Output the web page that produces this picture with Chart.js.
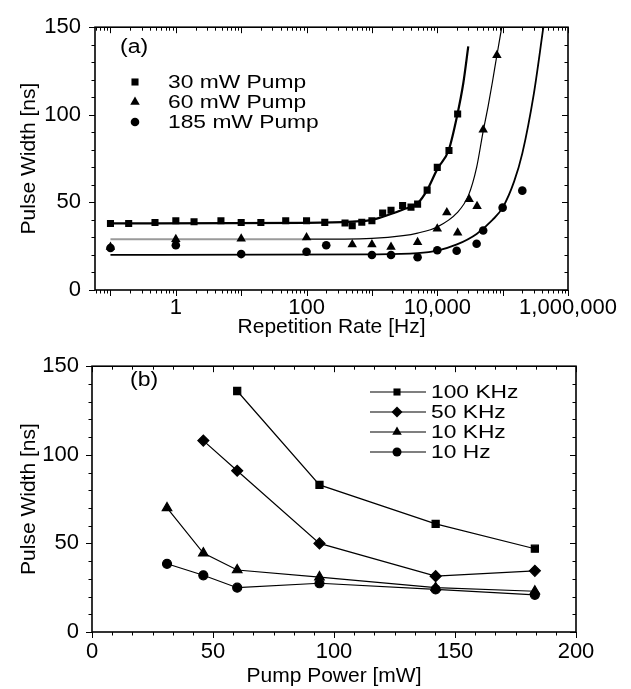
<!DOCTYPE html>
<html>
<head>
<meta charset="utf-8">
<script src="https://cdn.jsdelivr.net/npm/chart.js@4/dist/chart.umd.min.js"></script>
<style>
  html, body { margin: 0; padding: 0; background: #fff; }
  canvas { display: block; }
</style>
</head>
<body>
<canvas id="chartA" width="631" height="340"></canvas>
<canvas id="chartB" width="631" height="349"></canvas>
<script>
// (a) pulse width vs repetition rate - measured points
const rate30 = [0.1, 0.19, 0.48, 1, 1.9, 4.9, 10, 20, 48, 100, 190, 388, 500, 700, 1000, 1460, 1960, 2950, 3960, 5000, 7000, 10000, 15100, 20500];
const width30 = [38, 38, 38.5, 39.5, 39, 39.5, 38.5, 38.5, 39.5, 39.5, 38.6, 38.2, 36.7, 38.7, 39.5, 44, 45.5, 48.2, 47.3, 49, 57, 70, 79.6, 100.5];
const rate60 = [0.1, 1, 10, 100, 500, 1000, 1960, 5000, 10000, 14000, 20500, 30700, 40600, 50400, 81700];
const width60 = [24.5, 29, 29.2, 30, 26, 26, 24.5, 27.3, 35, 44.2, 32.7, 51.8, 47.8, 91.5, 134];
const rate185 = [0.1, 1, 10, 100, 200, 1000, 1960, 5000, 10000, 19800, 40000, 50400, 100000, 200000];
const width185 = [24, 25.5, 20.5, 21.8, 25.5, 20, 20, 18.7, 22.7, 22.4, 26.4, 34, 47, 56.7];

// (a) fitted curves
const fitRate30 = [0.1, 100, 500, 1000, 2000, 3000, 5000, 7000, 10000, 15000, 20000, 25000, 29800];
const fitWidth30 = [38, 38.3, 39, 40, 43.5, 46, 49.5, 57, 69, 80, 99, 118, 139];
const fitRate60 = [0.1, 100, 1000, 3000, 5000, 10000, 20000, 30000, 40000, 50000, 60000, 70000, 80000, 97000];
const fitWidth60 = [29, 29, 29.5, 31, 32.5, 36, 44, 54, 70, 90, 105, 119, 132, 150];
const fitRate185 = [0.1, 1000, 5000, 10000, 20000, 40000, 70000, 100000, 150000, 200000, 300000, 420000];
const fitWidth185 = [20, 20.3, 21, 22.5, 26, 32, 40, 47, 62, 78, 112, 150];

// (b) pulse width vs pump power
const power100k = [60, 94, 142, 183];
const pw100k = [136, 83, 61, 47];
const power50k = [46, 60, 94, 142, 183];
const pw50k = [108, 91, 50, 31.5, 34.5];
const power10k = [31, 46, 60, 94, 142, 183];
const pw10k = [70, 44.5, 35, 31, 25, 23];
const power10 = [31, 46, 60, 94, 142, 183];
const pw10 = [38.5, 32, 25, 27.5, 24, 21];

// axis ticks
const rateLabelTicks = [1, 100, 10000, 1000000];
const rateLabels = ['1', '100', '10,000', '1,000,000'];
const widthTicks = [0, 50, 100, 150];
const powerTicks = [0, 50, 100, 150, 200];

const FONT = '"Liberation Sans", Arial, Helvetica, sans-serif';
Chart.defaults.font.family = FONT;
Chart.defaults.color = '#000';

const pts = (xs, ys) => xs.map((x, i) => ({ x, y: ys[i] }));

// tick marks on all four sides (Origin style, mirrored)
function frameTicks(xMajor, xMinor, yMajor, yMinor) {
  return {
    id: 'frameTicks',
    afterDraw(chart) {
      const { ctx, chartArea: a, scales } = chart;
      ctx.save();
      ctx.strokeStyle = '#000';
      ctx.lineWidth = 1;
      ctx.beginPath();
      const markX = (vals, len) => vals.forEach(v => {
        const px = Math.round(scales.x.getPixelForValue(v)) + 0.5;
        ctx.moveTo(px, a.bottom); ctx.lineTo(px, a.bottom + len);
        ctx.moveTo(px, a.top); ctx.lineTo(px, a.top + len);
      });
      const markY = (vals, len) => vals.forEach(v => {
        const py = Math.round(scales.y.getPixelForValue(v)) + 0.5;
        ctx.moveTo(a.left, py); ctx.lineTo(a.left - len, py);
        ctx.moveTo(a.right, py); ctx.lineTo(a.right - len, py);
      });
      markX(xMajor, 6); markX(xMinor, 3.5);
      markY(yMajor, 6); markY(yMinor, 3.5);
      ctx.stroke();
      ctx.lineWidth = 1.6;
      ctx.strokeRect(a.left, a.top, a.right - a.left, a.bottom - a.top);
      ctx.restore();
    }
  };
}

// legend + panel tag drawn inside the plot (the scanned lettering is wide, so stretch it a bit)
function insetLegend(cfg) {
  return {
    id: 'insetLegend',
    afterDraw(chart) {
      const ctx = chart.ctx;
      ctx.save();
      ctx.fillStyle = '#000';
      ctx.strokeStyle = '#000';
      ctx.textBaseline = 'middle';
      ctx.font = `20px ${FONT}`;
      ctx.save();
      ctx.translate(cfg.tagX, cfg.tagY);
      ctx.scale(1.15, 1);
      ctx.fillText(cfg.tag, 0, 0);
      ctx.restore();
      ctx.font = `19px ${FONT}`;
      const items = chart.data.datasets.filter(ds => ds.label);
      items.forEach((ds, i) => {
        const y = cfg.y0 + i * cfg.dy;
        if (cfg.lineFrom !== undefined) {
          ctx.lineWidth = 1.2;
          ctx.beginPath();
          ctx.moveTo(cfg.lineFrom, y); ctx.lineTo(cfg.lineTo, y);
          ctx.stroke();
        }
        Chart.helpers.drawPoint(ctx, { pointStyle: ds.pointStyle, radius: ds.pointRadius, rotation: 0, borderWidth: 0 }, cfg.markX, y);
        ctx.save();
        ctx.translate(cfg.textX, y + 1);
        ctx.scale(1.2, 1);
        ctx.fillText(ds.label, 0, 0);
        ctx.restore();
      });
      ctx.restore();
    }
  };
}

const logMajor = [];
const logMinor = [];
for (let d = -2; d <= 6; d++) {
  const base = Math.pow(10, d);
  if (base >= 0.1) logMajor.push(base);
  for (let m = 2; m <= 9; m++) if (m * base > 0.058 && m * base < 1e6) logMinor.push(m * base);
}
const widthMinor = [];
for (let v = 10; v < 150; v += 10) if (v % 50) widthMinor.push(v);
const powerMinor = [];
for (let k = 1; k < 24; k++) if (k % 6) powerMinor.push(k * 50 / 6);

const markerBase = { backgroundColor: '#000', borderColor: '#000', borderWidth: 0, showLine: false };
const fitBase = { pointRadius: 0, backgroundColor: '#000', cubicInterpolationMode: 'monotone', showLine: true };

const yScale = (pad) => ({
  min: 0, max: 150,
  afterBuildTicks: s => { s.ticks = widthTicks.map(v => ({ value: v })); },
  afterFit: s => { s.width = pad.w; },
  grid: { display: false, drawTicks: false },
  border: { display: false },
  ticks: { font: { size: 22 }, padding: pad.p, color: '#000' },
  title: { display: true, text: 'Pulse Width [ns]', font: { size: 21 }, padding: { top: 17 }, color: '#000' }
});

// (a)
new Chart(document.getElementById('chartA'), {
  type: 'scatter',
  data: {
    datasets: [
      { ...markerBase, label: '30 mW Pump', data: pts(rate30, width30), pointStyle: 'rect', pointRadius: 5 },
      { ...markerBase, label: '60 mW Pump', data: pts(rate60, width60), pointStyle: 'triangle', pointRadius: 5.5 },
      { ...markerBase, label: '185 mW Pump', data: pts(rate185, width185), pointStyle: 'circle', pointRadius: 4.3 },
      { ...fitBase, data: pts(fitRate30, fitWidth30), borderColor: '#000', borderWidth: 2.2 },
      { ...fitBase, data: pts(fitRate60, fitWidth60), borderColor: '#000', borderWidth: 1.2,
        segment: {
          borderColor: c => c.p1.parsed.x <= 100 ? '#9a9a9a' : '#000',
          borderWidth: c => c.p1.parsed.x <= 100 ? 2 : 1.2
        } },
      { ...fitBase, data: pts(fitRate185, fitWidth185), borderColor: '#000', borderWidth: 1.8 }
    ]
  },
  options: {
    responsive: false,
    animation: false,
    events: [],
    layout: { padding: { left: 0, right: 63, top: 15, bottom: 0 } },
    plugins: { legend: { display: false }, tooltip: { enabled: false } },
    scales: {
      x: {
        type: 'logarithmic', min: 0.058, max: 1e6,
        afterBuildTicks: s => { s.ticks = rateLabelTicks.map(v => ({ value: v })); },
        afterFit: s => { s.height = 50; },
        grid: { display: false, drawTicks: false },
        border: { display: false },
        ticks: { font: { size: 22 }, padding: 5, autoSkip: false, maxRotation: 0, color: '#000',
          callback: v => rateLabels[rateLabelTicks.indexOf(v)] },
        title: { display: true, text: 'Repetition Rate [Hz]', font: { size: 21 }, padding: { top: 0, bottom: 0 }, color: '#000' }
      },
      y: yScale({ w: 95, p: 14 })
    }
  },
  plugins: [
    frameTicks(logMajor, logMinor, widthTicks, widthMinor),
    insetLegend({ tag: '(a)', tagX: 120, tagY: 47, y0: 82, dy: 20, markX: 135, textX: 168 })
  ]
});

// (b)
const lineBase = { ...markerBase, showLine: true, borderWidth: 1.2 };
new Chart(document.getElementById('chartB'), {
  type: 'scatter',
  data: {
    datasets: [
      { ...lineBase, label: '100 KHz', data: pts(power100k, pw100k), pointStyle: 'rect', pointRadius: 5 },
      { ...lineBase, label: '50 KHz', data: pts(power50k, pw50k), pointStyle: 'rectRot', pointRadius: 5.5 },
      { ...lineBase, label: '10 KHz', data: pts(power10k, pw10k), pointStyle: 'triangle', pointRadius: 5.5 },
      { ...lineBase, label: '10 Hz', data: pts(power10, pw10), pointStyle: 'circle', pointRadius: 4.5 }
    ]
  },
  options: {
    responsive: false,
    animation: false,
    events: [],
    layout: { padding: { left: 0, right: 55, top: 15, bottom: 0 } },
    plugins: { legend: { display: false }, tooltip: { enabled: false } },
    scales: {
      x: {
        min: 0, max: 200,
        afterBuildTicks: s => { s.ticks = powerTicks.map(v => ({ value: v })); },
        afterFit: s => { s.height = 57; },
        grid: { display: false, drawTicks: false },
        border: { display: false },
        ticks: { font: { size: 22 }, padding: 7, autoSkip: false, maxRotation: 0, color: '#000' },
        title: { display: true, text: 'Pump Power [mW]', font: { size: 21 }, padding: { top: 0, bottom: 0 }, color: '#000' }
      },
      y: yScale({ w: 92, p: 13 })
    }
  },
  plugins: [
    frameTicks(powerTicks, powerMinor, widthTicks, widthMinor),
    insetLegend({ tag: '(b)', tagX: 130, tagY: 40, y0: 52, dy: 20, markX: 397, textX: 431, lineFrom: 370, lineTo: 426 })
  ]
});
</script>
</body>
</html>
